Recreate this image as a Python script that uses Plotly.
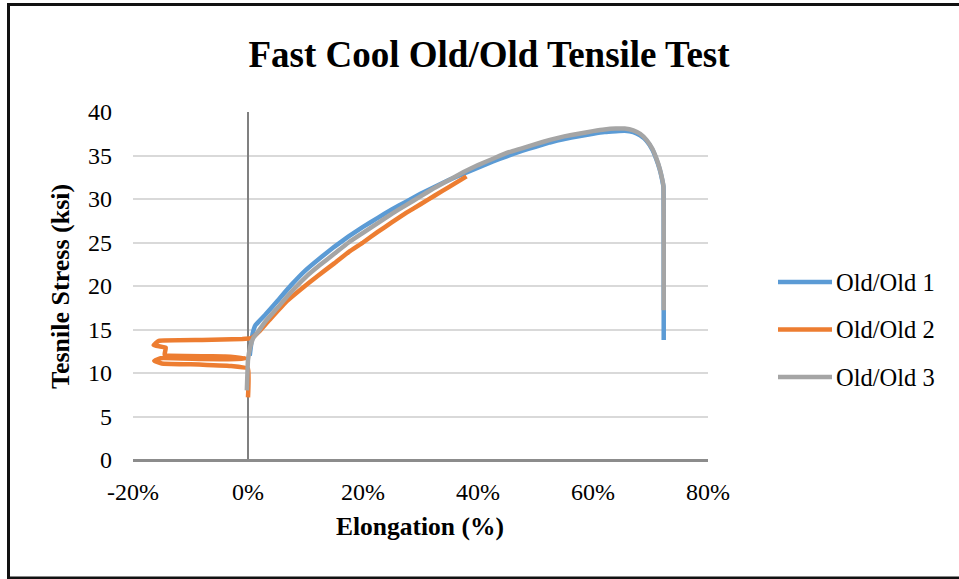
import plotly.graph_objects as go

# ---- data (elongation in %, stress in ksi) ----
old1_x = [0.3, 0.8, 1.3, 2, 3, 5, 7.5, 10, 12.5, 15, 17.5, 20, 22.5, 25, 27.5, 30, 32.5, 35, 37.5,
          40, 42.5, 45, 47.5, 50, 52.5, 55, 57.5, 60, 62, 64, 65.5, 67, 68.2, 69.3, 70.3, 71.0,
          71.6, 72.0, 72.25, 72.3, 72.3]
old1_y = [12.0, 14.5, 15.5, 16.0, 16.7, 18.2, 20.1, 21.8, 23.2, 24.5, 25.7, 26.8, 27.8, 28.8, 29.7,
          30.6, 31.4, 32.2, 32.9, 33.6, 34.3, 34.9, 35.5, 36.0, 36.5, 36.9, 37.2, 37.5, 37.7, 37.8,
          37.85, 37.7, 37.3, 36.7, 35.7, 34.6, 33.4, 32.3, 31.4, 25.0, 13.8]

old2_x = [0.0, 0.0, -3, -10, -15, -16.3, -15.2, -8, -2, -0.3, -4, -14.5, -14.3, -16.4, -15.5, -8,
          -1, 0.5, 1.0, 2, 4, 6.5, 9, 12, 15, 17.5, 20, 22.5, 25, 27.5, 30, 32.5, 35, 37, 38]
old2_y = [7.2, 10.5, 10.8, 11.0, 11.1, 11.4, 11.7, 11.6, 11.6, 11.7, 11.9, 12.1, 12.9, 13.2, 13.7,
          13.8, 13.9, 14.0, 14.2, 14.8, 16.3, 18.1, 19.5, 21.1, 22.6, 23.9, 25.0, 26.2, 27.3, 28.4,
          29.4, 30.4, 31.4, 32.2, 32.6]

old3_x = [-0.2, 0.0, 0.4, 0.9, 1.7, 3, 5, 7.5, 10, 12.5, 15, 17.5, 20, 22.5, 25, 27.5, 30, 32.5,
          35, 37.5, 40, 42.5, 45, 47.5, 50, 52.5, 55, 57.5, 60, 62, 64, 65.5, 67, 68.2, 69.3,
          70.3, 71.0, 71.6, 72.0, 72.25, 72.3, 72.3]
old3_y = [8.0, 11.5, 13.0, 14.0, 14.7, 15.9, 17.4, 19.3, 21.0, 22.4, 23.7, 25.0, 26.1, 27.2, 28.3,
          29.3, 30.3, 31.3, 32.2, 33.1, 33.9, 34.6, 35.3, 35.8, 36.3, 36.8, 37.2, 37.5, 37.8,
          38.0, 38.1, 38.1, 37.9, 37.5, 36.8, 35.8, 34.7, 33.5, 32.4, 31.5, 25.0, 17.2]

series_names = ["Old/Old 1", "Old/Old 2", "Old/Old 3"]
series_colors = ["#5B9BD5", "#ED7D31", "#A5A5A5"]
x_ticks = [-20, 0, 20, 40, 60, 80]
x_ticktext = ["-20%", "0%", "20%", "40%", "60%", "80%"]
y_ticks = [0, 5, 10, 15, 20, 25, 30, 35, 40]

FONT = "Liberation Serif, Times New Roman, serif"

fig = go.Figure()
for xs, ys, name, col in zip([old1_x, old2_x, old3_x], [old1_y, old2_y, old3_y],
                             series_names, series_colors):
    fig.add_trace(go.Scatter(x=xs, y=ys, mode="lines", name=name,
                             line=dict(color=col, width=4.5, shape="spline", smoothing=0.3),
                             showlegend=False))

W, H = 959, 579
L, R, T, B = 133, 251, 112, 119
pw, ph = W - L - R, H - T - B

def px(x):
    return (x - L) / pw

def py(y):
    return (H - B - y) / ph

# manual legend
shapes = []
annotations = []
for i, (name, col) in enumerate(zip(series_names, series_colors)):
    yy = py([282, 329.5, 377][i])
    shapes.append(dict(type="line", xref="paper", yref="paper", x0=px(778), x1=px(832),
                       y0=yy, y1=yy, line=dict(color=col, width=4.5)))
    annotations.append(dict(text=name, xref="paper", yref="paper", x=px(834), y=yy,
                            xanchor="left", yanchor="middle", showarrow=False,
                            font=dict(family=FONT, size=24.5, color="#000")))

# outer border
shapes.append(dict(type="rect", xref="paper", yref="paper", x0=px(8.5), x1=px(962),
                   y0=py(578), y1=py(4.5), line=dict(color="#111", width=3),
                   fillcolor="rgba(0,0,0,0)"))

# axis titles
annotations.append(dict(text="<b>Elongation (%)</b>", xref="paper", yref="paper",
                        x=px(420), y=py(526), xanchor="center", yanchor="middle",
                        showarrow=False, font=dict(family=FONT, size=25.5, color="#000")))
annotations.append(dict(text="<b>Tesnile Stress (ksi)</b>", xref="paper", yref="paper",
                        x=px(60), y=py(287), xanchor="center", yanchor="middle",
                        textangle=-90, showarrow=False,
                        font=dict(family=FONT, size=26, color="#000")))

fig.update_layout(
    width=W, height=H,
    margin=dict(l=L, r=R, t=T, b=B),
    paper_bgcolor="white", plot_bgcolor="white",
    title=dict(text="<b>Fast Cool Old/Old Tensile Test</b>", x=489 / W, xanchor="center",
               y=1 - 54 / H, yanchor="middle", yref="container",
               font=dict(family=FONT, size=37, color="#000")),
    shapes=shapes, annotations=annotations,
    xaxis=dict(range=[-20, 80], tickmode="array", tickvals=x_ticks, ticktext=x_ticktext,
               showgrid=False, zeroline=True, zerolinecolor="#808080", zerolinewidth=2,
               showline=False, ticklabelstandoff=15,
               tickfont=dict(family=FONT, size=24, color="#000")),
    yaxis=dict(range=[0, 40], tickmode="array", tickvals=y_ticks, showgrid=True,
               gridcolor="#d9d9d9", gridwidth=2, zeroline=True, zerolinecolor="#8c8c8c",
               zerolinewidth=2.5, showline=False, ticklabelstandoff=20,
               tickfont=dict(family=FONT, size=24, color="#000")),
)

fig.write_html("out.html")
